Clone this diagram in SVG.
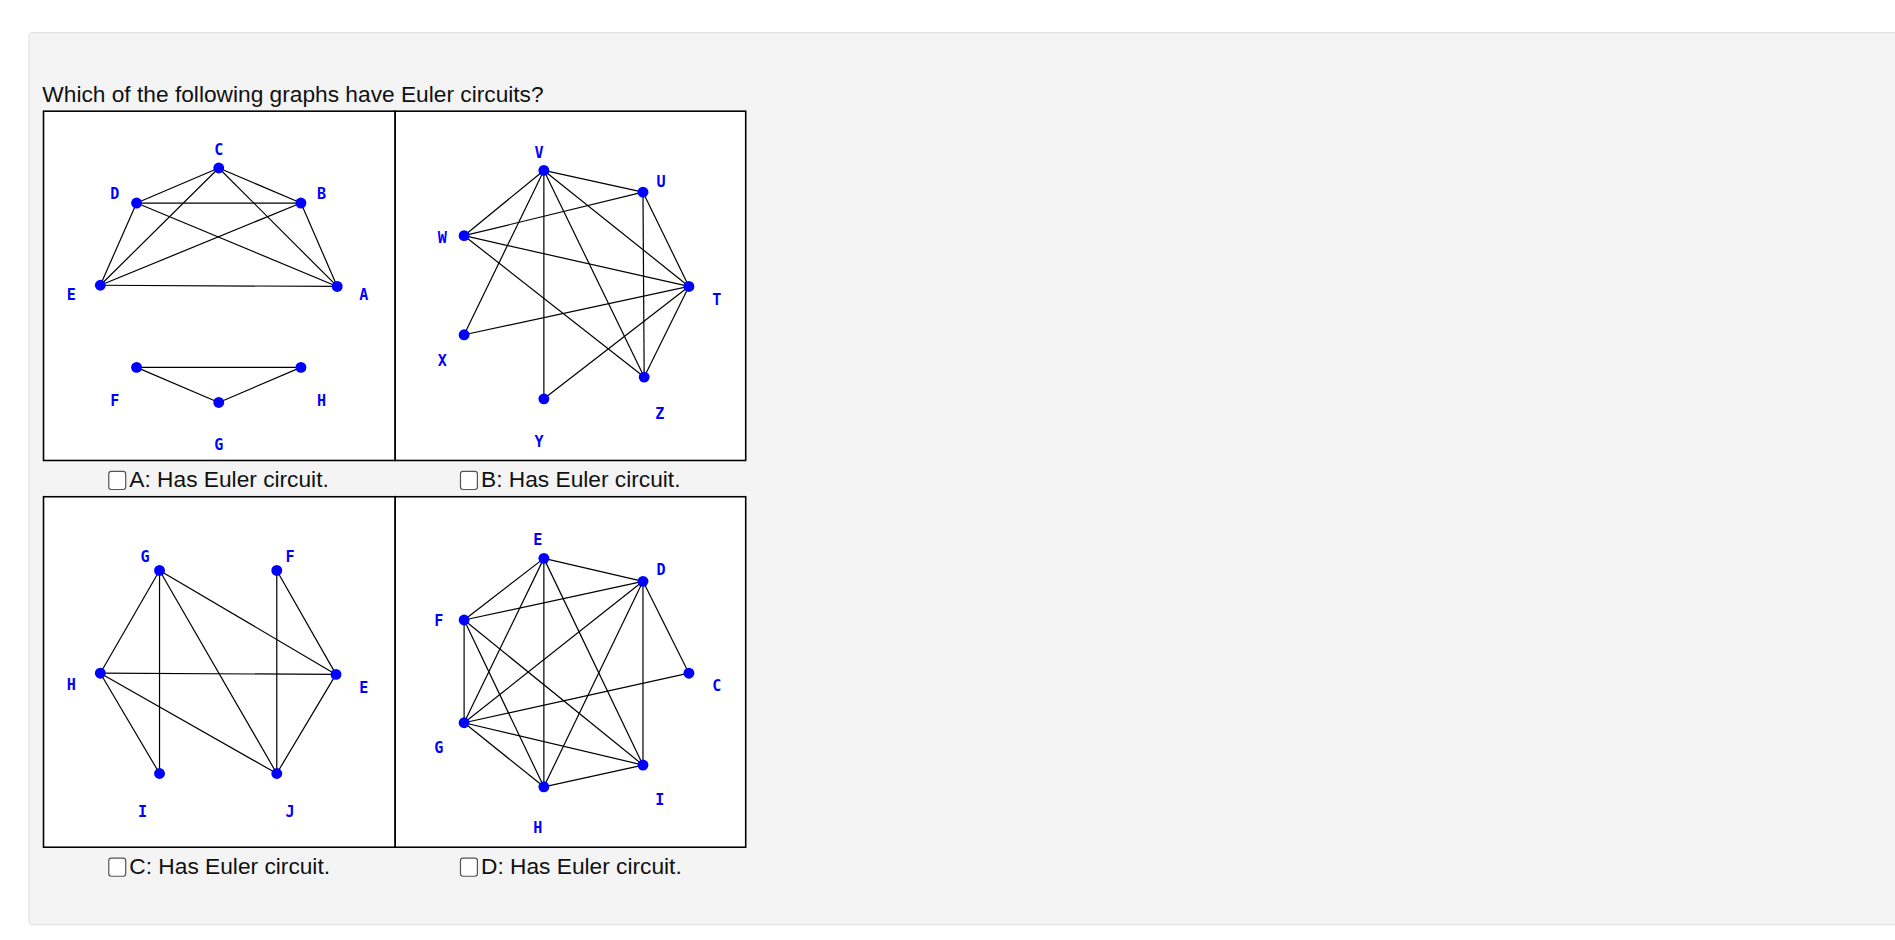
<svg xmlns="http://www.w3.org/2000/svg" width="1895" height="940" viewBox="0 0 1895 940">
<style>
.lbl{font-family:"DejaVu Sans Mono",monospace;font-weight:bold;font-size:12.5px;fill:#0000ff;text-anchor:middle}
.txt{font-family:"Liberation Sans",Arial,sans-serif;font-size:18.8px;fill:#111}
.e line{stroke:#000;stroke-width:1}
.n{fill:#0000ff}
.panel{fill:#fff;stroke:#000;stroke-width:1.3}
.cb{fill:#fff;stroke:#555;stroke-width:1;rx:2}
</style>
<rect width="1895" height="940" fill="#fff"/>
<g transform="scale(1.2086)">
<rect x="24" y="27" width="1560" height="738" rx="3" fill="#f4f4f4" stroke="#e2e2e2"/>
<text class="txt" x="35" y="84">Which of the following graphs have Euler circuits?</text>
<rect class="panel" x="36" y="92" width="291" height="289"/>
<rect class="panel" x="327" y="92" width="290" height="289"/>
<rect class="panel" x="36" y="411" width="291" height="290"/>
<rect class="panel" x="327" y="411" width="290" height="290"/>
<g id="connectors" class="e">
<line x1="181" y1="139" x2="113" y2="168"/><line x1="181" y1="139" x2="249" y2="168"/><line x1="113" y1="168" x2="249" y2="168"/>
<line x1="181" y1="139" x2="83" y2="236"/><line x1="181" y1="139" x2="279" y2="237"/><line x1="113" y1="168" x2="279" y2="237"/>
<line x1="249" y1="168" x2="83" y2="236"/><line x1="113" y1="168" x2="83" y2="236"/><line x1="249" y1="168" x2="279" y2="237"/>
<line x1="83" y1="236" x2="279" y2="237"/><line x1="113" y1="304" x2="249" y2="304"/><line x1="113" y1="304" x2="181" y2="333"/><line x1="181" y1="333" x2="249" y2="304"/>
<line x1="450" y1="141" x2="532" y2="159"/><line x1="450" y1="141" x2="384" y2="195"/><line x1="450" y1="141" x2="384" y2="277"/><line x1="450" y1="141" x2="450" y2="330"/>
<line x1="450" y1="141" x2="570" y2="237"/><line x1="450" y1="141" x2="533" y2="312"/><line x1="532" y1="159" x2="384" y2="195"/><line x1="532" y1="159" x2="533" y2="312"/>
<line x1="532" y1="159" x2="570" y2="237"/><line x1="384" y1="195" x2="570" y2="237"/><line x1="384" y1="195" x2="533" y2="312"/><line x1="384" y1="277" x2="570" y2="237"/>
<line x1="570" y1="237" x2="533" y2="312"/><line x1="570" y1="237" x2="450" y2="330"/>
<line x1="132" y1="472" x2="83" y2="557"/><line x1="132" y1="472" x2="132" y2="640"/><line x1="132" y1="472" x2="229" y2="640"/><line x1="132" y1="472" x2="278" y2="558"/>
<line x1="229" y1="472" x2="229" y2="640"/><line x1="229" y1="472" x2="278" y2="558"/><line x1="83" y1="557" x2="278" y2="558"/><line x1="83" y1="557" x2="132" y2="640"/>
<line x1="83" y1="557" x2="229" y2="640"/><line x1="278" y1="558" x2="229" y2="640"/>
<line x1="450" y1="462" x2="532" y2="481"/><line x1="450" y1="462" x2="384" y2="513"/><line x1="450" y1="462" x2="384" y2="598"/><line x1="450" y1="462" x2="450" y2="651"/>
<line x1="450" y1="462" x2="532" y2="633"/><line x1="532" y1="481" x2="384" y2="513"/><line x1="532" y1="481" x2="384" y2="598"/><line x1="532" y1="481" x2="450" y2="651"/>
<line x1="532" y1="481" x2="570" y2="557"/><line x1="532" y1="481" x2="532" y2="633"/><line x1="384" y1="513" x2="384" y2="598"/><line x1="384" y1="513" x2="450" y2="651"/>
<line x1="384" y1="513" x2="532" y2="633"/><line x1="384" y1="598" x2="570" y2="557"/><line x1="384" y1="598" x2="532" y2="633"/><line x1="384" y1="598" x2="450" y2="651"/>
<line x1="450" y1="651" x2="532" y2="633"/>
</g>
<g id="graphA">
<g id="A-C"><circle class="n" cx="181" cy="139" r="4.5"/><text class="lbl" x="181" y="128">C</text></g>
<g id="A-D"><circle class="n" cx="113" cy="168" r="4.5"/><text class="lbl" x="95" y="165">D</text></g>
<g id="A-B"><circle class="n" cx="249" cy="168" r="4.5"/><text class="lbl" x="266" y="165">B</text></g>
<g id="A-E"><circle class="n" cx="83" cy="236" r="4.5"/><text class="lbl" x="59" y="248">E</text></g>
<g id="A-A"><circle class="n" cx="279" cy="237" r="4.5"/><text class="lbl" x="301" y="248">A</text></g>
<g id="A-F"><circle class="n" cx="113" cy="304" r="4.5"/><text class="lbl" x="95" y="336">F</text></g>
<g id="A-H"><circle class="n" cx="249" cy="304" r="4.5"/><text class="lbl" x="266" y="336">H</text></g>
<g id="A-G"><circle class="n" cx="181" cy="333" r="4.5"/><text class="lbl" x="181" y="372">G</text></g>
</g>
<g id="graphB">
<g id="B-V"><circle class="n" cx="450" cy="141" r="4.5"/><text class="lbl" x="446" y="131">V</text></g>
<g id="B-U"><circle class="n" cx="532" cy="159" r="4.5"/><text class="lbl" x="547" y="155">U</text></g>
<g id="B-W"><circle class="n" cx="384" cy="195" r="4.5"/><text class="lbl" x="366" y="201">W</text></g>
<g id="B-T"><circle class="n" cx="570" cy="237" r="4.5"/><text class="lbl" x="593" y="252">T</text></g>
<g id="B-X"><circle class="n" cx="384" cy="277" r="4.5"/><text class="lbl" x="366" y="303">X</text></g>
<g id="B-Z"><circle class="n" cx="533" cy="312" r="4.5"/><text class="lbl" x="546" y="347">Z</text></g>
<g id="B-Y"><circle class="n" cx="450" cy="330" r="4.5"/><text class="lbl" x="446" y="370">Y</text></g>
</g>
<g id="graphC">
<g id="C-G"><circle class="n" cx="132" cy="472" r="4.5"/><text class="lbl" x="120" y="465">G</text></g>
<g id="C-F"><circle class="n" cx="229" cy="472" r="4.5"/><text class="lbl" x="240" y="465">F</text></g>
<g id="C-H"><circle class="n" cx="83" cy="557" r="4.5"/><text class="lbl" x="59" y="571">H</text></g>
<g id="C-E"><circle class="n" cx="278" cy="558" r="4.5"/><text class="lbl" x="301" y="573">E</text></g>
<g id="C-I"><circle class="n" cx="132" cy="640" r="4.5"/><text class="lbl" x="118" y="676">I</text></g>
<g id="C-J"><circle class="n" cx="229" cy="640" r="4.5"/><text class="lbl" x="240" y="676">J</text></g>
</g>
<g id="graphD">
<g id="D-E"><circle class="n" cx="450" cy="462" r="4.5"/><text class="lbl" x="445" y="451">E</text></g>
<g id="D-D"><circle class="n" cx="532" cy="481" r="4.5"/><text class="lbl" x="547" y="476">D</text></g>
<g id="D-F"><circle class="n" cx="384" cy="513" r="4.5"/><text class="lbl" x="363" y="518">F</text></g>
<g id="D-C"><circle class="n" cx="570" cy="557" r="4.5"/><text class="lbl" x="593" y="572">C</text></g>
<g id="D-G"><circle class="n" cx="384" cy="598" r="4.5"/><text class="lbl" x="363" y="623">G</text></g>
<g id="D-I"><circle class="n" cx="532" cy="633" r="4.5"/><text class="lbl" x="546" y="666">I</text></g>
<g id="D-H"><circle class="n" cx="450" cy="651" r="4.5"/><text class="lbl" x="445" y="689">H</text></g>
</g>
<g id="options">
<rect class="cb" x="90" y="390" width="14" height="15"/><text class="txt" x="107" y="403">A: Has Euler circuit.</text>
<rect class="cb" x="381" y="390" width="14" height="15"/><text class="txt" x="398" y="403">B: Has Euler circuit.</text>
<rect class="cb" x="90" y="710" width="14" height="15"/><text class="txt" x="107" y="723">C: Has Euler circuit.</text>
<rect class="cb" x="381" y="710" width="14" height="15"/><text class="txt" x="398" y="723">D: Has Euler circuit.</text>
</g>
</g>
</svg>
